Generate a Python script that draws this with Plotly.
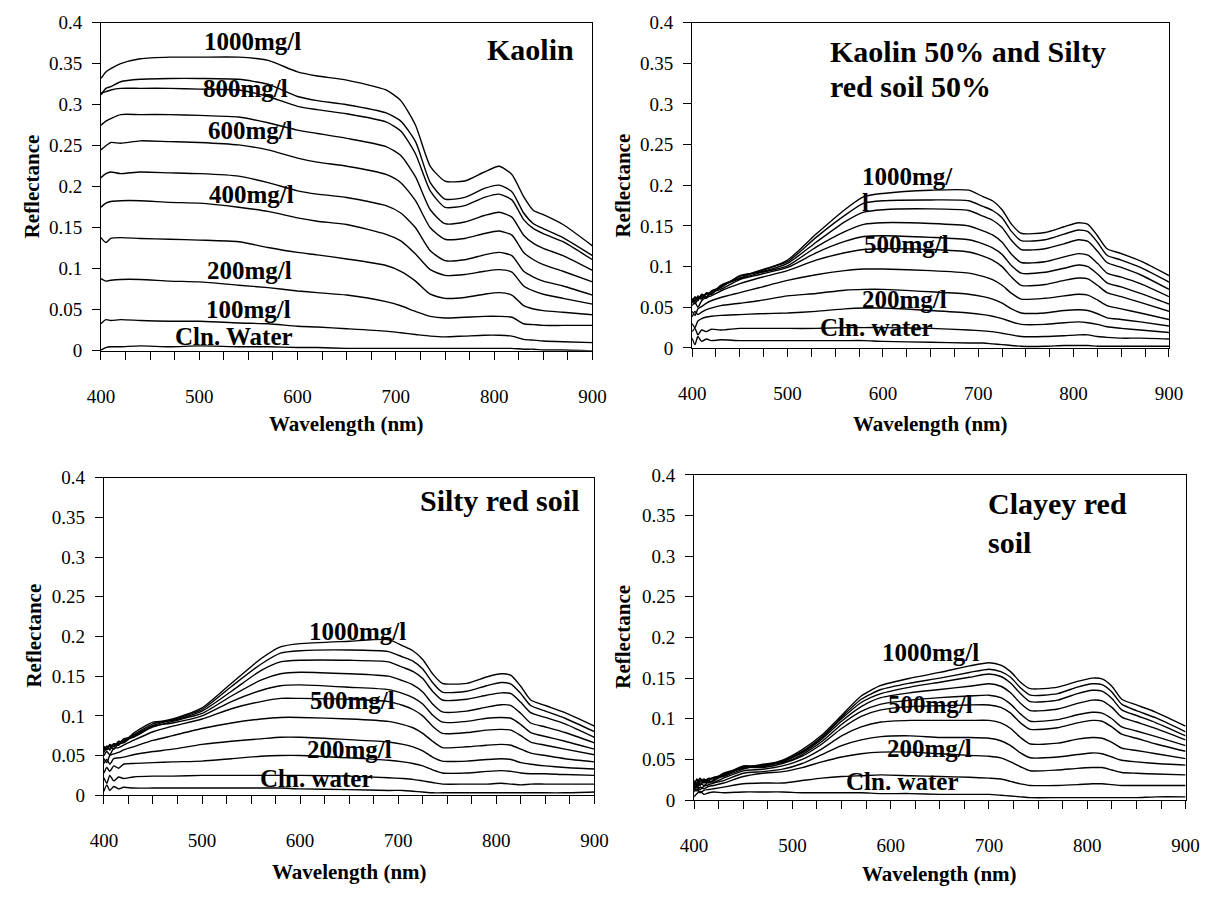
import plotly.graph_objects as go

# ---------------- DATA ----------------
conc = [1000, 900, 800, 700, 600, 500, 400, 300, 200, 100, 0]

# Kaolin
kaolin_wl = [400, 405, 410, 420, 440, 470, 500, 540, 570, 600, 620, 650, 690, 705, 720, 735, 750, 770, 790, 805, 818, 830, 840, 850, 870, 900]
kaolin_1000 = [0.332, 0.340, 0.344, 0.350, 0.356, 0.358, 0.358, 0.358, 0.354, 0.340, 0.335, 0.330, 0.318, 0.305, 0.275, 0.225, 0.207, 0.207, 0.218, 0.225, 0.215, 0.188, 0.171, 0.166, 0.154, 0.128]
kaolin_900 = [0.312, 0.320, 0.322, 0.328, 0.331, 0.332, 0.332, 0.331, 0.325, 0.310, 0.305, 0.300, 0.290, 0.280, 0.255, 0.205, 0.185, 0.187, 0.198, 0.202, 0.194, 0.168, 0.155, 0.149, 0.138, 0.116]
kaolin_800 = [0.314, 0.316, 0.318, 0.320, 0.320, 0.320, 0.319, 0.318, 0.310, 0.298, 0.294, 0.289, 0.279, 0.268, 0.240, 0.195, 0.175, 0.177, 0.187, 0.191, 0.184, 0.160, 0.149, 0.143, 0.133, 0.111]
kaolin_700 = [0.275, 0.280, 0.283, 0.288, 0.288, 0.288, 0.287, 0.285, 0.278, 0.269, 0.265, 0.259, 0.249, 0.238, 0.212, 0.172, 0.155, 0.157, 0.165, 0.169, 0.163, 0.141, 0.131, 0.125, 0.116, 0.098]
kaolin_600 = [0.245, 0.250, 0.254, 0.253, 0.256, 0.255, 0.254, 0.251, 0.245, 0.235, 0.230, 0.225, 0.215, 0.205, 0.183, 0.150, 0.136, 0.137, 0.143, 0.146, 0.141, 0.120, 0.111, 0.105, 0.097, 0.084]
kaolin_500 = [0.211, 0.216, 0.218, 0.216, 0.218, 0.217, 0.216, 0.213, 0.205, 0.195, 0.191, 0.187, 0.177, 0.168, 0.150, 0.122, 0.110, 0.111, 0.117, 0.120, 0.116, 0.097, 0.090, 0.085, 0.079, 0.068]
kaolin_400 = [0.175, 0.180, 0.182, 0.183, 0.183, 0.181, 0.180, 0.175, 0.170, 0.162, 0.158, 0.154, 0.142, 0.134, 0.118, 0.099, 0.092, 0.093, 0.097, 0.099, 0.096, 0.079, 0.073, 0.069, 0.064, 0.057]
kaolin_300 = [0.138, 0.132, 0.137, 0.138, 0.137, 0.136, 0.135, 0.133, 0.126, 0.120, 0.117, 0.112, 0.104, 0.097, 0.085, 0.069, 0.064, 0.065, 0.069, 0.071, 0.068, 0.055, 0.051, 0.049, 0.047, 0.044]
kaolin_200 = [0.088, 0.085, 0.086, 0.087, 0.087, 0.085, 0.084, 0.080, 0.077, 0.073, 0.071, 0.068, 0.060, 0.055, 0.048, 0.042, 0.040, 0.041, 0.042, 0.042, 0.041, 0.033, 0.032, 0.031, 0.031, 0.031]
kaolin_100 = [0.033, 0.038, 0.037, 0.038, 0.037, 0.036, 0.036, 0.034, 0.033, 0.030, 0.029, 0.027, 0.024, 0.022, 0.020, 0.018, 0.017, 0.018, 0.019, 0.019, 0.018, 0.014, 0.013, 0.012, 0.011, 0.010]
kaolin_0 = [0.001, 0.004, 0.005, 0.005, 0.006, 0.005, 0.006, 0.005, 0.005, 0.004, 0.004, 0.003, 0.003, 0.003, 0.003, 0.003, 0.003, 0.003, 0.003, 0.003, 0.003, 0.002, 0.002, 0.001, 0.001, 0.000]

# Kaolin 50% + Silty red soil 50%
mix_wl = [400, 403, 406, 410, 415, 420, 430, 450, 470, 500, 530, 560, 580, 600, 650, 690, 705, 715, 725, 735, 745, 770, 790, 805, 815, 825, 835, 850, 870, 900]
mix_1000 = [0.058, 0.062, 0.060, 0.064, 0.066, 0.069, 0.075, 0.088, 0.094, 0.108, 0.140, 0.170, 0.186, 0.190, 0.194, 0.194, 0.186, 0.181, 0.170, 0.152, 0.141, 0.142, 0.149, 0.154, 0.152, 0.138, 0.122, 0.116, 0.107, 0.089]
mix_900 = [0.060, 0.057, 0.064, 0.061, 0.068, 0.066, 0.077, 0.086, 0.095, 0.106, 0.136, 0.163, 0.178, 0.181, 0.182, 0.181, 0.174, 0.169, 0.160, 0.143, 0.132, 0.133, 0.140, 0.145, 0.143, 0.130, 0.114, 0.108, 0.099, 0.081]
mix_800 = [0.055, 0.063, 0.058, 0.066, 0.063, 0.070, 0.074, 0.089, 0.093, 0.104, 0.130, 0.155, 0.167, 0.170, 0.171, 0.169, 0.162, 0.157, 0.148, 0.132, 0.121, 0.122, 0.128, 0.133, 0.131, 0.119, 0.105, 0.099, 0.090, 0.072]
mix_700 = [0.057, 0.059, 0.062, 0.060, 0.067, 0.066, 0.076, 0.085, 0.092, 0.101, 0.124, 0.143, 0.152, 0.154, 0.153, 0.150, 0.144, 0.139, 0.130, 0.115, 0.105, 0.106, 0.112, 0.116, 0.114, 0.104, 0.092, 0.087, 0.079, 0.063]
mix_600 = [0.061, 0.054, 0.060, 0.063, 0.061, 0.068, 0.072, 0.084, 0.090, 0.099, 0.117, 0.131, 0.137, 0.138, 0.136, 0.133, 0.128, 0.123, 0.115, 0.101, 0.092, 0.093, 0.098, 0.102, 0.100, 0.091, 0.080, 0.075, 0.067, 0.054]
mix_500 = [0.052, 0.056, 0.050, 0.058, 0.062, 0.064, 0.070, 0.079, 0.086, 0.095, 0.108, 0.117, 0.121, 0.122, 0.121, 0.118, 0.113, 0.108, 0.100, 0.087, 0.077, 0.078, 0.083, 0.086, 0.085, 0.077, 0.068, 0.063, 0.056, 0.045]
mix_400 = [0.045, 0.040, 0.048, 0.051, 0.055, 0.058, 0.062, 0.068, 0.074, 0.083, 0.090, 0.095, 0.097, 0.097, 0.095, 0.092, 0.088, 0.084, 0.077, 0.067, 0.060, 0.061, 0.064, 0.066, 0.065, 0.059, 0.052, 0.048, 0.043, 0.035]
mix_300 = [0.038, 0.045, 0.041, 0.044, 0.047, 0.049, 0.052, 0.055, 0.058, 0.064, 0.067, 0.071, 0.072, 0.072, 0.069, 0.066, 0.063, 0.060, 0.055, 0.048, 0.043, 0.043, 0.046, 0.047, 0.046, 0.042, 0.037, 0.035, 0.032, 0.027]
mix_200 = [0.030, 0.025, 0.033, 0.036, 0.038, 0.039, 0.040, 0.041, 0.042, 0.043, 0.045, 0.048, 0.049, 0.049, 0.046, 0.043, 0.041, 0.039, 0.036, 0.032, 0.029, 0.029, 0.031, 0.032, 0.031, 0.029, 0.026, 0.024, 0.022, 0.019]
mix_100 = [0.020, 0.024, 0.016, 0.022, 0.020, 0.023, 0.022, 0.024, 0.024, 0.024, 0.024, 0.025, 0.025, 0.025, 0.024, 0.022, 0.021, 0.020, 0.018, 0.016, 0.014, 0.014, 0.015, 0.016, 0.016, 0.014, 0.013, 0.012, 0.012, 0.011]
mix_0 = [0.012, 0.004, 0.014, 0.008, 0.011, 0.009, 0.010, 0.009, 0.009, 0.009, 0.009, 0.009, 0.009, 0.008, 0.007, 0.006, 0.006, 0.005, 0.004, 0.003, 0.002, 0.002, 0.003, 0.003, 0.003, 0.002, 0.002, 0.002, 0.002, 0.002]

# Silty red soil
silty_wl = [400, 403, 406, 410, 415, 420, 430, 450, 470, 500, 530, 560, 580, 600, 650, 690, 705, 715, 725, 735, 745, 770, 790, 805, 815, 825, 835, 850, 870, 900]
silty_1000 = [0.060, 0.058, 0.063, 0.062, 0.067, 0.068, 0.076, 0.090, 0.096, 0.110, 0.141, 0.172, 0.187, 0.191, 0.194, 0.196, 0.188, 0.182, 0.171, 0.153, 0.141, 0.141, 0.149, 0.153, 0.151, 0.137, 0.120, 0.113, 0.104, 0.087]
silty_900 = [0.056, 0.062, 0.059, 0.065, 0.064, 0.071, 0.074, 0.088, 0.095, 0.108, 0.137, 0.165, 0.179, 0.182, 0.183, 0.181, 0.174, 0.169, 0.159, 0.142, 0.130, 0.131, 0.138, 0.142, 0.140, 0.128, 0.113, 0.106, 0.097, 0.080]
silty_800 = [0.062, 0.057, 0.064, 0.061, 0.068, 0.067, 0.078, 0.092, 0.094, 0.106, 0.131, 0.157, 0.168, 0.170, 0.170, 0.168, 0.161, 0.156, 0.147, 0.131, 0.120, 0.121, 0.126, 0.129, 0.128, 0.117, 0.104, 0.098, 0.090, 0.073]
silty_700 = [0.058, 0.061, 0.057, 0.064, 0.063, 0.069, 0.073, 0.086, 0.093, 0.103, 0.125, 0.145, 0.153, 0.155, 0.153, 0.150, 0.144, 0.139, 0.130, 0.115, 0.105, 0.106, 0.111, 0.114, 0.113, 0.103, 0.091, 0.086, 0.079, 0.066]
silty_600 = [0.054, 0.059, 0.062, 0.058, 0.065, 0.066, 0.075, 0.087, 0.091, 0.100, 0.118, 0.132, 0.138, 0.139, 0.136, 0.133, 0.128, 0.123, 0.115, 0.101, 0.092, 0.093, 0.097, 0.098, 0.097, 0.089, 0.079, 0.074, 0.068, 0.058]
silty_500 = [0.050, 0.055, 0.051, 0.059, 0.060, 0.063, 0.069, 0.080, 0.087, 0.096, 0.109, 0.118, 0.122, 0.122, 0.121, 0.118, 0.113, 0.108, 0.100, 0.087, 0.078, 0.079, 0.082, 0.083, 0.082, 0.075, 0.067, 0.063, 0.058, 0.051]
silty_400 = [0.046, 0.041, 0.050, 0.052, 0.054, 0.057, 0.061, 0.069, 0.075, 0.084, 0.091, 0.096, 0.098, 0.098, 0.096, 0.093, 0.089, 0.085, 0.078, 0.068, 0.060, 0.061, 0.063, 0.064, 0.063, 0.058, 0.053, 0.050, 0.046, 0.042]
silty_300 = [0.040, 0.045, 0.039, 0.046, 0.047, 0.048, 0.051, 0.055, 0.058, 0.064, 0.068, 0.071, 0.073, 0.073, 0.070, 0.067, 0.064, 0.061, 0.056, 0.048, 0.043, 0.043, 0.045, 0.046, 0.045, 0.041, 0.039, 0.037, 0.035, 0.033]
silty_200 = [0.028, 0.035, 0.030, 0.037, 0.034, 0.039, 0.040, 0.041, 0.042, 0.043, 0.046, 0.049, 0.050, 0.050, 0.047, 0.044, 0.042, 0.040, 0.037, 0.032, 0.028, 0.028, 0.030, 0.031, 0.030, 0.028, 0.027, 0.027, 0.026, 0.025]
silty_100 = [0.022, 0.015, 0.025, 0.018, 0.023, 0.021, 0.023, 0.024, 0.024, 0.025, 0.025, 0.025, 0.025, 0.025, 0.024, 0.022, 0.021, 0.020, 0.018, 0.016, 0.014, 0.014, 0.014, 0.015, 0.014, 0.013, 0.014, 0.014, 0.014, 0.014]
silty_0 = [0.005, 0.013, 0.006, 0.011, 0.008, 0.010, 0.009, 0.009, 0.009, 0.009, 0.009, 0.009, 0.009, 0.008, 0.007, 0.006, 0.006, 0.005, 0.004, 0.003, 0.003, 0.003, 0.003, 0.003, 0.003, 0.003, 0.003, 0.003, 0.003, 0.004]

# Clayey red soil
clayey_wl = [400, 403, 406, 410, 415, 420, 430, 450, 470, 490, 510, 530, 550, 570, 590, 620, 650, 680, 700, 712, 722, 732, 742, 770, 790, 805, 815, 825, 835, 850, 870, 900]
clayey_1000 = [0.020, 0.025, 0.019, 0.024, 0.026, 0.027, 0.032, 0.040, 0.043, 0.049, 0.062, 0.080, 0.104, 0.128, 0.141, 0.150, 0.157, 0.165, 0.169, 0.166, 0.158, 0.145, 0.137, 0.139, 0.146, 0.150, 0.149, 0.140, 0.124, 0.117, 0.108, 0.091]
clayey_900 = [0.016, 0.021, 0.027, 0.022, 0.024, 0.028, 0.030, 0.041, 0.042, 0.048, 0.060, 0.078, 0.102, 0.124, 0.136, 0.144, 0.150, 0.157, 0.161, 0.158, 0.151, 0.138, 0.129, 0.131, 0.139, 0.143, 0.142, 0.133, 0.118, 0.110, 0.101, 0.084]
clayey_800 = [0.024, 0.018, 0.023, 0.026, 0.022, 0.025, 0.033, 0.039, 0.044, 0.047, 0.059, 0.077, 0.100, 0.120, 0.131, 0.139, 0.145, 0.151, 0.155, 0.152, 0.144, 0.131, 0.121, 0.123, 0.131, 0.135, 0.134, 0.125, 0.111, 0.104, 0.095, 0.079]
clayey_700 = [0.018, 0.026, 0.020, 0.023, 0.027, 0.026, 0.031, 0.042, 0.041, 0.048, 0.058, 0.075, 0.097, 0.115, 0.126, 0.132, 0.136, 0.140, 0.143, 0.140, 0.132, 0.119, 0.110, 0.112, 0.119, 0.123, 0.122, 0.114, 0.102, 0.096, 0.088, 0.074]
clayey_600 = [0.022, 0.017, 0.025, 0.021, 0.025, 0.028, 0.029, 0.038, 0.043, 0.046, 0.056, 0.072, 0.093, 0.109, 0.118, 0.123, 0.126, 0.128, 0.129, 0.126, 0.118, 0.106, 0.097, 0.099, 0.105, 0.108, 0.107, 0.100, 0.090, 0.085, 0.078, 0.067]
clayey_500 = [0.014, 0.022, 0.018, 0.024, 0.021, 0.024, 0.030, 0.040, 0.040, 0.045, 0.054, 0.069, 0.088, 0.103, 0.111, 0.115, 0.116, 0.117, 0.117, 0.114, 0.107, 0.095, 0.087, 0.089, 0.095, 0.098, 0.097, 0.090, 0.081, 0.076, 0.069, 0.060]
clayey_400 = [0.019, 0.015, 0.021, 0.018, 0.023, 0.022, 0.027, 0.036, 0.038, 0.042, 0.050, 0.063, 0.079, 0.090, 0.096, 0.098, 0.098, 0.098, 0.098, 0.095, 0.088, 0.077, 0.069, 0.070, 0.075, 0.077, 0.076, 0.071, 0.064, 0.061, 0.057, 0.051]
clayey_300 = [0.012, 0.018, 0.013, 0.017, 0.019, 0.021, 0.024, 0.033, 0.035, 0.038, 0.045, 0.056, 0.067, 0.074, 0.078, 0.079, 0.077, 0.077, 0.076, 0.073, 0.067, 0.058, 0.052, 0.053, 0.056, 0.058, 0.057, 0.053, 0.049, 0.047, 0.045, 0.043]
clayey_200 = [0.015, 0.011, 0.016, 0.014, 0.017, 0.018, 0.021, 0.029, 0.033, 0.035, 0.040, 0.047, 0.053, 0.057, 0.059, 0.059, 0.057, 0.055, 0.054, 0.052, 0.047, 0.041, 0.036, 0.037, 0.039, 0.040, 0.040, 0.037, 0.034, 0.033, 0.032, 0.031]
clayey_100 = [0.010, 0.014, 0.009, 0.012, 0.013, 0.014, 0.016, 0.020, 0.021, 0.021, 0.024, 0.027, 0.029, 0.030, 0.031, 0.030, 0.029, 0.028, 0.027, 0.026, 0.023, 0.020, 0.018, 0.018, 0.019, 0.020, 0.020, 0.019, 0.018, 0.018, 0.018, 0.018]
clayey_0 = [0.004, 0.008, 0.011, 0.007, 0.009, 0.010, 0.009, 0.010, 0.010, 0.010, 0.009, 0.009, 0.009, 0.009, 0.008, 0.008, 0.007, 0.007, 0.007, 0.006, 0.005, 0.004, 0.003, 0.003, 0.003, 0.003, 0.003, 0.003, 0.003, 0.003, 0.004, 0.004]

x_tick_vals = list(range(400, 901, 25))
x_tick_text = ["400", "", "", "", "500", "", "", "", "600", "", "", "", "700", "", "", "", "800", "", "", "", "900"]
y_tick_vals = [0, 0.05, 0.1, 0.15, 0.2, 0.25, 0.3, 0.35, 0.4]
y_tick_text = ["0", "0.05", "0.1", "0.15", "0.2", "0.25", "0.3", "0.35", "0.4"]

panels = [
    dict(wl=kaolin_wl, curves=[kaolin_1000, kaolin_900, kaolin_800, kaolin_700, kaolin_600, kaolin_500,
                               kaolin_400, kaolin_300, kaolin_200, kaolin_100, kaolin_0],
         box=(89, 592, 13, 349),
         labels=[("1000mg/l", 554, 0.377), ("800mg/l", 547, 0.320), ("600mg/l", 552, 0.269),
                 ("400mg/l", 553, 0.191), ("200mg/l", 551, 0.098), ("100mg/l", 550, 0.050),
                 ("Cln. Water", 535, 0.017)],
         titles=[("Kaolin", 575, 40, "right")],
         ylab=(18, 181), xlab=(340, 424)),
    dict(wl=mix_wl, curves=[mix_1000, mix_900, mix_800, mix_700, mix_600, mix_500,
                            mix_400, mix_300, mix_200, mix_100, mix_0],
         box=(694, 1182, 13, 346),
         labels=[("1000mg/", 626, 0.211), ("l", 582, 0.179), ("500mg/l", 625, 0.127),
                 ("200mg/l", 623, 0.059), ("Cln. water", 593, 0.025)],
         titles=[("Kaolin 50% and Silty", 833, 42, "left"), ("red soil 50%", 833, 78, "left")],
         ylab=(623, 180), xlab=(938, 424)),
    dict(wl=silty_wl, curves=[silty_1000, silty_900, silty_800, silty_700, silty_600, silty_500,
                              silty_400, silty_300, silty_200, silty_100, silty_0],
         box=(92, 594, 479, 804),
         labels=[("1000mg/l", 659, 0.206), ("500mg/l", 653, 0.119), ("200mg/l", 650, 0.058),
                 ("Cln. water", 616, 0.021)],
         titles=[("Silty red soil", 580, 502, "right")],
         ylab=(20, 641), xlab=(343, 883)),
    dict(wl=clayey_wl, curves=[clayey_1000, clayey_900, clayey_800, clayey_700, clayey_600, clayey_500,
                               clayey_400, clayey_300, clayey_200, clayey_100, clayey_0],
         box=(696, 1199, 476, 809),
         labels=[("1000mg/l", 640, 0.181), ("500mg/l", 640, 0.118), ("200mg/l", 639, 0.064),
                 ("Cln. water", 612, 0.023)],
         titles=[("Clayey red", 995, 505, "left"), ("soil", 995, 545, "left")],
         ylab=(623, 642), xlab=(947, 885)),
]

# ---------------- FIGURE ----------------
W, H = 1225, 898
FONT = "Liberation Serif"


def px(x):
    return x / W


def py(y):
    return 1 - y / H


fig = go.Figure()
layout_axes = {}
annotations = []

for i, p in enumerate(panels):
    n = i + 1
    xa = "x" if n == 1 else f"x{n}"
    ya = "y" if n == 1 else f"y{n}"
    for c, vals in zip(conc, p["curves"]):
        fig.add_trace(go.Scatter(x=p["wl"], y=vals, mode="lines", xaxis=xa, yaxis=ya,
                                 line=dict(color="black", width=1.4, shape="spline", smoothing=0.6),
                                 showlegend=False, name=f"{c} mg/l"))
    x0, x1, y0, y1 = p["box"]
    xkey = "xaxis" if n == 1 else f"xaxis{n}"
    ykey = "yaxis" if n == 1 else f"yaxis{n}"
    layout_axes[xkey] = dict(domain=[px(x0), px(x1)], range=[400, 900], anchor=ya,
                             tickvals=x_tick_vals, ticktext=x_tick_text,
                             ticks="outside", ticklen=8, tickcolor="black", tickwidth=1,
                             showline=True, linecolor="black", linewidth=1, mirror=True,
                             showgrid=False, zeroline=False, ticklabelstandoff=20,
                             tickfont=dict(family=FONT, size=19, color="black"))
    layout_axes[ykey] = dict(domain=[py(y1), py(y0)], range=[0, 0.4], anchor=xa,
                             tickvals=y_tick_vals, ticktext=y_tick_text,
                             ticks="outside", ticklen=8, tickcolor="black", tickwidth=1,
                             showline=True, linecolor="black", linewidth=1, mirror=True,
                             showgrid=False, zeroline=False, ticklabelstandoff=6,
                             tickfont=dict(family=FONT, size=19, color="black"))
    for text, wx, wy in p["labels"]:
        annotations.append(dict(text=f"<b>{text}</b>", x=wx, y=wy, xref=xa, yref=ya,
                                showarrow=False, xanchor="center", yanchor="middle",
                                font=dict(family=FONT, size=25, color="black")))
    for text, tx, ty, anchor in p["titles"]:
        annotations.append(dict(text=f"<b>{text}</b>", x=px(tx), y=py(ty), xref="paper", yref="paper",
                                showarrow=False, xanchor=anchor, yanchor="middle",
                                font=dict(family=FONT, size=30, color="black")))
    lx, ly = p["ylab"]
    annotations.append(dict(text="<b>Reflectance</b>", x=px(lx), y=py(ly), xref="paper", yref="paper",
                            showarrow=False, textangle=-90, xanchor="center", yanchor="middle",
                            font=dict(family=FONT, size=21, color="black")))
    wx_, wy_ = p["xlab"]
    annotations.append(dict(text="<b>Wavelength (nm)</b>", x=px(wx_), y=py(wy_), xref="paper", yref="paper",
                            showarrow=False, xanchor="center", yanchor="middle",
                            font=dict(family=FONT, size=21, color="black")))

fig.update_layout(width=W, height=H, margin=dict(l=0, r=0, t=0, b=0),
                  paper_bgcolor="white", plot_bgcolor="white",
                  font=dict(family=FONT, color="black"),
                  showlegend=False, annotations=annotations, **layout_axes)

fig.write_html("out.html")
